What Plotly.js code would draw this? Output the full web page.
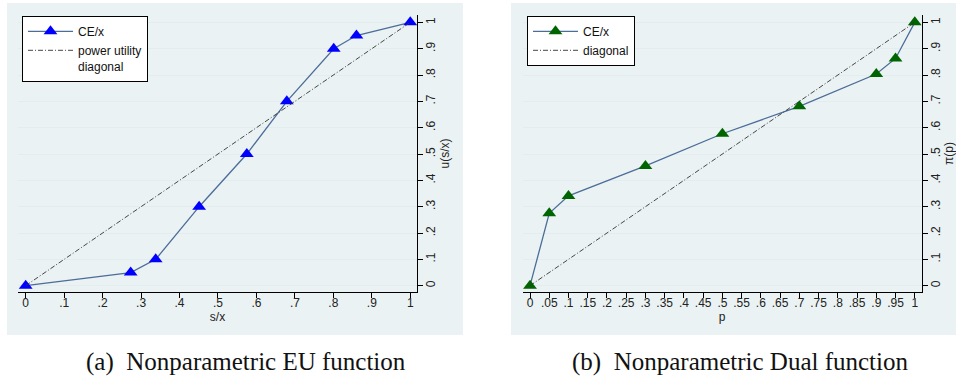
<!DOCTYPE html>
<html>
<head>
<meta charset="utf-8">
<script src="https://cdn.plot.ly/plotly-3.0.1.min.js"></script>
<style>html,body{margin:0;padding:0;background:#fff;}#chart{width:956px;height:381px;}</style>
</head>
<body>
<div id="chart"></div>
<script>
// Panel (a): Nonparametric EU function
const euX = [0, 0.273, 0.338, 0.451, 0.575, 0.679, 0.801, 0.860, 1.0];
const euY = [0, 0.05, 0.10, 0.30, 0.50, 0.70, 0.90, 0.95, 1.0];
const euDiagX = [0, 1];
const euDiagY = [0, 1];
// Panel (b): Nonparametric Dual function
const dualX = [0, 0.05, 0.10, 0.30, 0.50, 0.70, 0.90, 0.95, 1.0];
const dualY = [0, 0.275, 0.341, 0.455, 0.577, 0.681, 0.804, 0.863, 1.0];
const dualDiagX = [0, 1];
const dualDiagY = [0, 1];
// Tick labels
const yTickVals = [0, 0.1, 0.2, 0.3, 0.4, 0.5, 0.6, 0.7, 0.8, 0.9, 1];
const yTickText = ['0', '.1', '.2', '.3', '.4', '.5', '.6', '.7', '.8', '.9', '1'];
const euXTickVals = [0, 0.1, 0.2, 0.3, 0.4, 0.5, 0.6, 0.7, 0.8, 0.9, 1];
const euXTickText = ['0', '.1', '.2', '.3', '.4', '.5', '.6', '.7', '.8', '.9', '1'];
const dualXTickVals = [0, 0.05, 0.1, 0.15, 0.2, 0.25, 0.3, 0.35, 0.4, 0.45, 0.5, 0.55, 0.6, 0.65, 0.7, 0.75, 0.8, 0.85, 0.9, 0.95, 1];
const dualXTickText = ['0', '.05', '.1', '.15', '.2', '.25', '.3', '.35', '.4', '.45', '.5', '.55', '.6', '.65', '.7', '.75', '.8', '.85', '.9', '.95', '1'];
const captions = ['(a)  Nonparametric EU function', '(b)  Nonparametric Dual function'];

const W = 956, H = 381;
const lineCol = '#4c6d99';
const diagDash = '5px,2px,1px,2px';

const traces = [
  {x: euX, y: euY, xaxis: 'x', yaxis: 'y', name: 'CE/x', mode: 'lines+markers',
   line: {color: lineCol, width: 1.3}, marker: {symbol: 'triangle-up', size: 12, color: '#0000ff'}, legend: 'legend'},
  {x: euDiagX, y: euDiagY, xaxis: 'x', yaxis: 'y', name: 'power utility<br>diagonal', mode: 'lines',
   line: {color: '#333333', width: 0.9, dash: diagDash}, legend: 'legend'},
  {x: dualX, y: dualY, xaxis: 'x2', yaxis: 'y2', name: 'CE/x', mode: 'lines+markers',
   line: {color: lineCol, width: 1.3}, marker: {symbol: 'triangle-up', size: 12, color: '#006400'}, legend: 'legend2'},
  {x: dualDiagX, y: dualDiagY, xaxis: 'x2', yaxis: 'y2', name: 'diagonal', mode: 'lines',
   line: {color: '#333333', width: 0.9, dash: diagDash}, legend: 'legend2'}
];

const tickFont = {family: 'Liberation Sans, Arial, sans-serif', size: 12, color: '#222'};
function xAxis(domain, range, vals, text, title, anchor) {
  return {domain: domain, range: range, anchor: anchor, tickmode: 'array', tickvals: vals, ticktext: text,
    showline: true, linecolor: '#000', linewidth: 1, ticks: 'outside', ticklen: 5, tickcolor: '#000',
    showgrid: false, zeroline: false, tickfont: tickFont, ticklabelstandoff: -5,
    title: {text: title, font: tickFont, standoff: 0}, fixedrange: true};
}
function yAxis(range, title, anchor) {
  return {domain: [89/381, 366/381], range: range, anchor: anchor, side: 'right', tickmode: 'array',
    tickvals: yTickVals, ticktext: yTickText, tickangle: -90,
    showline: true, linecolor: '#000', linewidth: 1, ticks: 'outside', ticklen: 5, tickcolor: '#000',
    showgrid: true, gridcolor: '#e3ecee', gridwidth: 1, zeroline: false, tickfont: tickFont, ticklabelstandoff: -2,
    title: {text: title, font: tickFont, standoff: 0}, fixedrange: true};
}
const legendBase = {bgcolor: '#fff', bordercolor: '#000', borderwidth: 1,
  font: {family: 'Liberation Sans, Arial, sans-serif', size: 12, color: '#111'},
  xanchor: 'left', yanchor: 'top', itemwidth: 45, tracegroupgap: 0, valign: 'top',
  itemclick: false, itemdoubleclick: false};

const layout = {
  width: W, height: H, margin: {l: 0, r: 0, t: 0, b: 0},
  paper_bgcolor: '#fff', plot_bgcolor: '#fff', showlegend: true,
  xaxis: xAxis([18/W, 417/W], [-0.02, 1.0175], euXTickVals, euXTickText, 's/x', 'y'),
  yaxis: yAxis([-0.024, 1.028], 'u(s/x)', 'x'),
  xaxis2: xAxis([522.7/W, 921.7/W], [-0.019, 1.018], dualXTickVals, dualXTickText, 'p', 'y2'),
  yaxis2: yAxis([-0.024, 1.028], 'π(p)', 'x2'),
  legend: Object.assign({}, legendBase, {x: 22/W, y: 1 - 16/H}),
  legend2: Object.assign({}, legendBase, {x: 527/W, y: 1 - 16/H}),
  shapes: [
    {type: 'rect', xref: 'paper', yref: 'paper', x0: 7/W, x1: 463/W, y0: 1 - 335/H, y1: 1 - 3/H,
     fillcolor: '#eaf2f3', line: {width: 0}, layer: 'below'},
    {type: 'rect', xref: 'paper', yref: 'paper', x0: 511/W, x1: 956/W, y0: 1 - 335/H, y1: 1 - 3/H,
     fillcolor: '#eaf2f3', line: {width: 0}, layer: 'below'}
  ],
  annotations: [
    {text: captions[0], xref: 'paper', yref: 'paper', x: 246/W, y: 1 - 362/H, xanchor: 'center', yanchor: 'middle',
     showarrow: false, font: {family: 'Liberation Serif, Times New Roman, serif', size: 25, color: '#111'}},
    {text: captions[1], xref: 'paper', yref: 'paper', x: 740/W, y: 1 - 362/H, xanchor: 'center', yanchor: 'middle',
     showarrow: false, font: {family: 'Liberation Serif, Times New Roman, serif', size: 25, color: '#111'}}
  ]
};

Plotly.newPlot('chart', traces, layout, {displayModeBar: false, staticPlot: true});
</script>
</body>
</html>
